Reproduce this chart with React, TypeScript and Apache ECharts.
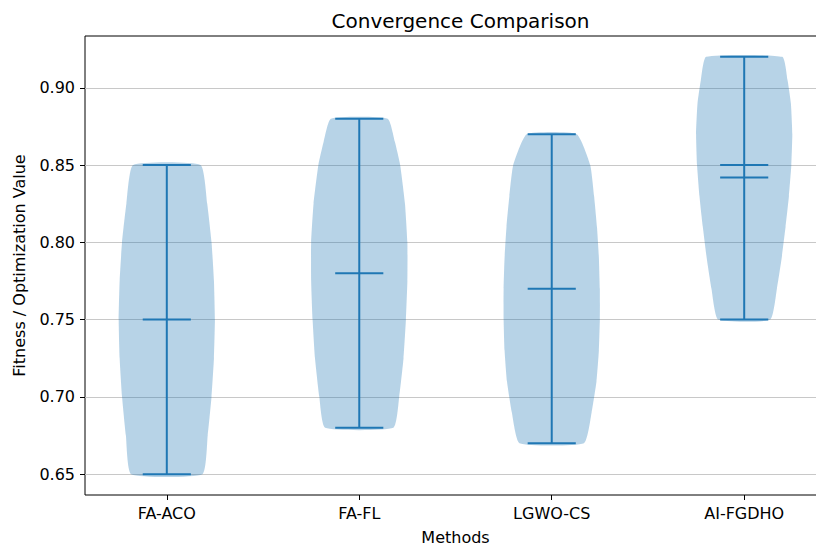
import React, { useEffect, useRef } from "react";
import * as echarts from "echarts";

const methods = ["FA-ACO", "FA-FL", "LGWO-CS", "AI-FGDHO"];
const positions = [1, 2, 3, 4];
const minVals = [0.65, 0.68, 0.67, 0.75];
const maxVals = [0.85, 0.88, 0.87, 0.92];
const medianVals = [0.75, 0.78, 0.77, 0.842];
const meanVals = [0.75, 0.78, 0.77, 0.85];

// violin outline: levels (value) and relative half-width (1 = widest)
const profileLevels: number[][] = [
  [0.65, 0.675, 0.7, 0.725, 0.75, 0.775, 0.8, 0.825, 0.85],
  [0.68, 0.7, 0.725, 0.75, 0.775, 0.8, 0.825, 0.85, 0.865, 0.88],
  [0.67, 0.69, 0.71, 0.73, 0.75, 0.77, 0.79, 0.81, 0.83, 0.85, 0.87],
  [0.75, 0.77, 0.79, 0.81, 0.83, 0.85, 0.87, 0.89, 0.905, 0.92],
];
const profileWidths: number[][] = [
  [0.74, 0.85, 0.93, 0.98, 1.0, 0.98, 0.93, 0.84, 0.7],
  [0.71, 0.83, 0.92, 0.97, 1.0, 1.0, 0.95, 0.85, 0.74, 0.59],
  [0.67, 0.83, 0.93, 0.98, 1.0, 1.0, 0.98, 0.94, 0.88, 0.8, 0.52],
  [0.54, 0.68, 0.78, 0.86, 0.93, 0.98, 1.0, 0.97, 0.9, 0.79],
];
const yTicks = [0.65, 0.7, 0.75, 0.8, 0.85, 0.9];

const FONT = "DejaVu Sans";
const C0 = "#1f77b4";

export default function App() {
  const ref = useRef<HTMLDivElement>(null);
  useEffect(() => {
    if (!ref.current) return;
    const chart = echarts.init(ref.current, undefined, { renderer: "svg" });
    const halfMax = 0.25;
    const capHalf = 0.125;
    const renderItem = (params: any, api: any) => {
      const i = params.dataIndex;
      const pos = positions[i];
      const lv = profileLevels[i];
      const wd = profileWidths[i];
      const pts: number[][] = [];
      for (let k = 0; k < lv.length; k++) pts.push(api.coord([pos + halfMax * wd[k], lv[k]]));
      for (let k = lv.length - 1; k >= 0; k--) pts.push(api.coord([pos - halfMax * wd[k], lv[k]]));
      const lineStyle = { stroke: C0, lineWidth: 2 };
      const hline = (v: number) => {
        const a = api.coord([pos - capHalf, v]);
        const b = api.coord([pos + capHalf, v]);
        return { type: "line", shape: { x1: a[0], y1: a[1], x2: b[0], y2: b[1] }, style: lineStyle };
      };
      const top = api.coord([pos, maxVals[i]]);
      const bot = api.coord([pos, minVals[i]]);
      const children: any[] = [
        {
          type: "polygon",
          shape: { points: pts, smooth: 0.15 },
          style: { fill: "rgba(31,119,180,0.32)" },
        },
        { type: "line", shape: { x1: top[0], y1: top[1], x2: bot[0], y2: bot[1] }, style: lineStyle },
        hline(minVals[i]),
        hline(maxVals[i]),
        hline(medianVals[i]),
      ];
      if (meanVals[i] !== medianVals[i]) children.push(hline(meanVals[i]));
      return { type: "group", children };
    };
    const textStyle = { color: "#000", fontFamily: FONT, fontSize: 16 };
    chart.setOption({
      animation: false,
      title: {
        text: "Convergence Comparison",
        left: 455.5,
        textAlign: "center",
        top: 6,
        textStyle: { color: "#000", fontFamily: FONT, fontSize: 20, fontWeight: "normal" },
      },
      grid: {
        left: 85,
        right: -10,
        top: 36,
        bottom: 57,
        show: true,
        borderColor: "#000",
        borderWidth: 1,
        backgroundColor: "transparent",
        outerBoundsMode: "none",
        containLabel: false,
      },
      xAxis: {
        type: "value",
        min: 0.575,
        max: 4.425,
        name: "Methods",
        nameLocation: "middle",
        nameGap: 34,
        nameTextStyle: textStyle,
        axisLine: { show: false },
        axisTick: { show: true, customValues: positions, length: 5, lineStyle: { color: "#000", width: 1 } },
        axisLabel: {
          customValues: positions,
          formatter: (v: number) => methods[positions.indexOf(Math.round(v))] ?? "",
          margin: 10,
          ...textStyle,
        },
        splitLine: { show: false },
      },
      yAxis: {
        type: "value",
        min: 0.6365,
        max: 0.9335,
        name: "Fitness / Optimization Value",
        nameLocation: "middle",
        nameGap: 58,
        nameTextStyle: textStyle,
        axisLine: { show: false },
        axisTick: { show: true, customValues: yTicks, length: 5, lineStyle: { color: "#000", width: 1 } },
        axisLabel: {
          customValues: yTicks,
          formatter: (v: number) => v.toFixed(2),
          margin: 10,
          ...textStyle,
        },
        splitLine: { show: false },
      },
      series: [
        {
          type: "line",
          data: [],
          z: 1,
          silent: true,
          markLine: {
            silent: true,
            symbol: ["none", "none"],
            label: { show: false },
            lineStyle: { color: "#c8c8c8", width: 1, type: "solid" },
            data: yTicks.map((v) => ({ yAxis: v })),
          },
        },
        {
          type: "custom",
          renderItem,
          data: positions.map((p, i) => [p, minVals[i], maxVals[i]]),
          encode: { x: 0, y: [1, 2] },
          z: 5,
        },
      ],
    });
    return () => chart.dispose();
  }, []);
  return (
    <div
      ref={ref}
      style={{ position: "fixed", left: 0, top: 0, width: 816, height: 552, background: "#fff" }}
    />
  );
}
